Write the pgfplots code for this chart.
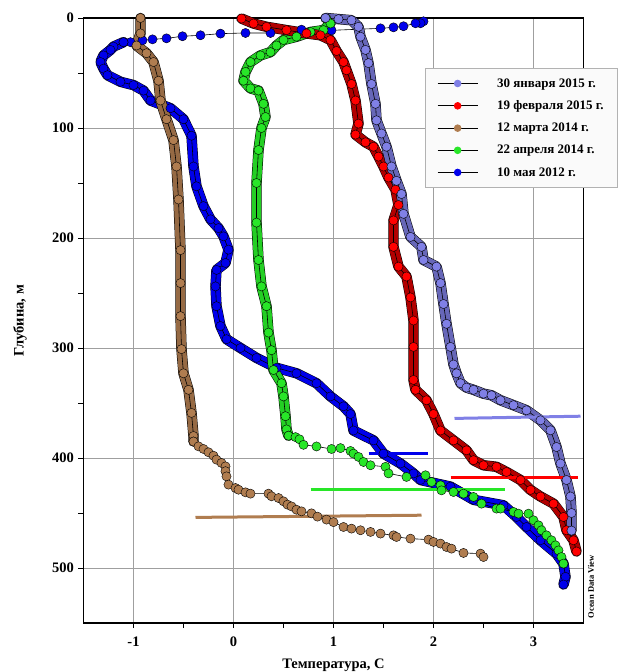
\documentclass[border=0pt]{standalone}
\usepackage{fontspec}
\setmainfont{Liberation Serif}
\usepackage{pgfplots}
\usepackage{pgfplotstable}
\pgfplotsset{compat=1.18}
\definecolor{cLav}{RGB}{128,128,230}
\definecolor{cRed}{RGB}{255,0,0}
\definecolor{cBrn}{RGB}{176,125,80}
\definecolor{cGrn}{RGB}{40,230,40}
\definecolor{cBlu}{RGB}{0,0,235}

% 30 January 2015
\pgfplotstableread{
T d
0.92 0
1.05 1
1.18 2
1.25 8
1.27 17
1.32 29
1.35 41
1.38 60
1.42 78
1.43 93
1.48 105
1.53 117
1.58 135
1.63 148
1.68 160
1.70 178
1.77 199
1.88 208
1.90 220
2.03 226
2.07 241
2.10 260
2.13 278
2.17 299
2.20 315
2.23 323
2.27 332
2.33 336
2.40 338
2.50 341.5
2.58 343
2.67 347.5
2.80 352
2.93 356.6
3.07 365.7
3.17 374.8
3.23 390
3.27 405
3.33 420
3.37 435
3.38 450
3.38 466
}\tLav

% 19 February 2015
\pgfplotstableread{
T d
0.08 0.5
0.20 5
0.33 8
0.53 11
0.73 14
0.87 15.7
0.97 20
1.03 30
1.10 40
1.13 47.5
1.18 60
1.22 75
1.25 96
1.22 106
1.32 113
1.40 117
1.45 126
1.50 135
1.55 145
1.62 156
1.65 170
1.60 184
1.60 208
1.65 226
1.73 235
1.77 254
1.80 275
1.80 299
1.80 329
1.82 338
1.93 347.5
2.00 360
2.07 375
2.20 384
2.33 393
2.40 402
2.50 406.6
2.63 408
2.73 412.7
2.87 420
2.97 429
3.07 435
3.20 441.5
3.30 453.6
3.33 465.7
3.40 474.8
3.43 485
}\tRed

% 12 March 2014 (dense part)
\pgfplotstableread{
T d
-0.93 0
-0.93 14
-0.97 25
-0.87 32
-0.80 40
-0.75 57
-0.73 75
-0.67 92
-0.60 111
-0.57 135
-0.55 165
-0.53 211
-0.53 241
-0.53 271
-0.52 301
-0.50 323
-0.45 338
-0.42 359
-0.40 380
-0.40 385
}\tBrnA
% 12 March 2014 (sparse part)
\pgfplotstableread{
T d
-0.40 385
-0.35 389.4
-0.30 391.8
-0.25 394.8
-0.20 397.9
-0.17 401.5
-0.12 404.5
-0.08 407.6
-0.08 412
-0.07 416.7
-0.05 424.2
0.02 427.3
0.05 428.8
0.12 431.2
0.17 432.4
0.35 432.4
0.38 434.8
0.45 436.4
0.50 439.4
0.54 442.4
0.58 444
0.63 447
0.68 448.5
0.78 450.3
0.84 453.3
0.93 456
1.00 458.3
1.10 462.7
1.18 464.2
1.27 465.7
1.37 467.2
1.47 468.7
1.60 470.3
1.63 471.8
1.77 473.3
1.95 474.2
2.00 476.3
2.07 477.8
2.13 480.9
2.18 482.4
2.30 486.3
2.47 486.9
2.50 490
}\tBrnB

% 22 April 2014 (dense part)
\pgfplotstableread{
T d
0.93 0.5
0.97 5
0.90 11
0.77 12.7
0.63 17
0.50 20
0.43 25
0.37 31
0.27 34
0.17 40
0.12 49
0.10 57
0.17 64
0.25 66
0.30 78
0.32 90
0.28 100
0.25 120
0.23 150
0.23 186
0.25 220
0.28 244
0.33 262
0.35 286
0.38 302
0.40 320
0.48 332
0.50 344
0.52 362
0.53 374
0.55 379.7
}\tGrnA
% 22 April 2014 (sparse part)
\pgfplotstableread{
T d
0.55 379.7
0.62 381
0.66 383
0.70 388
0.83 389.5
0.98 391.8
1.07 391
1.17 393.6
1.20 396
1.25 399
1.30 403.6
1.37 406.6
1.52 408
1.55 414
1.73 417.2
1.92 415.7
1.98 421.8
2.07 424.8
2.08 429.4
2.20 430.9
2.30 432.4
2.40 435.4
2.48 441.5
2.63 446
2.67 446
2.80 449
2.85 450.6
2.95 450.6
3.00 456.6
3.05 461.2
3.08 465.7
3.13 470.3
3.18 474.8
3.22 479.4
3.25 484
3.28 490
3.30 496
}\tGrnB

% 10 May 2012 (sparse surface part)
\pgfplotstableread{
T d
1.90 3
1.87 4.8
1.82 4.8
1.70 7.5
1.60 8.5
1.47 9.4
0.98 11.2
0.68 10.6
0.37 13.6
0.12 13.6
-0.13 14.2
-0.33 15.7
-0.51 16.6
-0.67 18.5
-0.81 19.4
-0.91 20.3
-1.03 22
-1.10 22
}\tBluA
% 10 May 2012 (dense part)
\pgfplotstableread{
T d
-1.10 22
-1.20 26
-1.23 29
-1.30 34
-1.33 40
-1.30 46
-1.26 52
-1.13 58
-1.00 61
-0.90 66
-0.83 75
-0.63 82
-0.50 92
-0.42 107
-0.40 135
-0.37 153
-0.30 171
-0.23 183
-0.15 191
-0.10 198.5
-0.05 210.6
-0.08 222.7
-0.17 229
-0.18 244
-0.17 262
-0.13 280
-0.07 292
0.07 300
0.23 309
0.43 318
0.63 323
0.83 332
0.97 344
1.10 353
1.17 360
1.20 375
1.40 384
1.50 396
1.67 405
1.80 414
1.87 420
2.17 426
2.40 438
2.70 443
2.83 453.6
2.93 462.7
3.07 474.8
3.23 487
3.30 496
3.32 508
3.30 515
}\tBluB

\pgfplotsset{
  bandk/.style={no marks, line width=10.4pt, line join=round, line cap=round, black, forget plot},
  bandc/.style={no marks, line width=9.4pt, line join=round, line cap=round, #1, forget plot},
  pts/.style={black, line width=0.6pt, mark=*, mark size=4.6pt,
    mark options={fill=#1, draw=black, line width=0.4pt}, forget plot},
  lvl/.style={no marks, line width=3pt, #1, forget plot},
}

\begin{document}
\begin{tikzpicture}
\useasboundingbox (0,0) rectangle (627pt,672pt);
\begin{axis}[
  at={(83.5pt,49pt)}, anchor=south west,
  scale only axis, width=500pt, height=605pt,
  xmin=-1.5, xmax=3.5, ymin=0, ymax=550, y dir=reverse,
  xtick={-1,0,1,2,3}, xticklabels={-1,0,1,2,3},
  ytick={0,100,200,300,400,500}, yticklabels={0,100,200,300,400,500},
  minor x tick num=1, minor y tick num=1,
  xtick pos=bottom, ytick pos=left,
  tick align=outside, major tick length=5pt, minor tick length=5pt,
  tick style={black, line width=0.6pt},
  ticklabel style={font=\bfseries\fontsize{14.5}{16}\selectfont},
  x tick label style={yshift=-5pt},
  y tick label style={xshift=-1pt},
  grid=major, major grid style={gray!75, line width=0.5pt},
  axis line style={line width=1.5pt},
  clip=false,
  xlabel={Температура, C}, ylabel={Глубина, м},
  every axis x label/.style={at={(axis description cs:0.5,0)}, anchor=center, yshift=-42pt,
    font=\bfseries\fontsize{14.5}{16}\selectfont},
  every axis y label/.style={at={(axis description cs:-0.127,0.5)}, anchor=center, rotate=90,
    font=\bfseries\fontsize{14.5}{16}\selectfont},
  legend cell align=left,
  legend image code/.code={\draw[mark repeat=2,mark phase=2,#1] plot coordinates {(0pt,0pt) (20pt,0pt) (40pt,0pt)};},
  legend style={at={(0.683,0.917)}, anchor=north west, draw=gray!60, fill=black!2,
    font=\bfseries\fontsize{13}{15}\selectfont, inner xsep=12pt, inner ysep=8pt,
    row sep=8pt, /tikz/every odd column/.append style={column sep=17pt}},
]
% legend entries
\addlegendimage{black, line width=0.9pt, mark=*, mark size=3.3pt, mark options={fill=cLav, draw=cLav}}
\addlegendentry{30 января 2015 г.}
\addlegendimage{black, line width=0.9pt, mark=*, mark size=3.3pt, mark options={fill=cRed, draw=cRed}}
\addlegendentry{19 февраля 2015 г.}
\addlegendimage{black, line width=0.9pt, mark=*, mark size=3.3pt, mark options={fill=cBrn, draw=cBrn}}
\addlegendentry{12 марта 2014 г.}
\addlegendimage{black, line width=0.9pt, mark=*, mark size=3.3pt, mark options={fill=cGrn, draw=cGrn}}
\addlegendentry{22 апреля 2014 г.}
\addlegendimage{black, line width=0.9pt, mark=*, mark size=3.3pt, mark options={fill=cBlu, draw=cBlu}}
\addlegendentry{10 мая 2012 г.}

% 10 May 2012
\addplot[bandk] table[x=T,y=d] {\tBluB};
\addplot[bandc=cBlu] table[x=T,y=d] {\tBluB};
\addplot[pts=cBlu] table[x=T,y=d] {\tBluA};
\addplot[pts=cBlu] table[x=T,y=d] {\tBluB};
% 12 March 2014
\addplot[bandk] table[x=T,y=d] {\tBrnA};
\addplot[bandc=cBrn!85!black] table[x=T,y=d] {\tBrnA};
\addplot[pts=cBrn] table[x=T,y=d] {\tBrnA};
\addplot[pts=cBrn] table[x=T,y=d] {\tBrnB};
% 22 April 2014
\addplot[bandk] table[x=T,y=d] {\tGrnA};
\addplot[bandc=cGrn!90!black] table[x=T,y=d] {\tGrnA};
\addplot[pts=cGrn] table[x=T,y=d] {\tGrnA};
\addplot[pts=cGrn] table[x=T,y=d] {\tGrnB};
% 19 February 2015
\addplot[bandk] table[x=T,y=d] {\tRed};
\addplot[bandc=cRed!70!black] table[x=T,y=d] {\tRed};
\addplot[pts=cRed] table[x=T,y=d] {\tRed};
% 30 January 2015
\addplot[bandk] table[x=T,y=d] {\tLav};
\addplot[bandc=cLav!80!black] table[x=T,y=d] {\tLav};
\addplot[pts=cLav] table[x=T,y=d] {\tLav};

% level lines
\addplot[lvl=cLav] coordinates {(2.21,364) (3.47,362)};
\addplot[lvl=cRed] coordinates {(2.17,417.5) (3.44,417.5)};
\addplot[lvl=cBlu] coordinates {(1.35,395.7) (1.94,395.7)};
\addplot[lvl=cGrn] coordinates {(0.77,428.5) (2.71,428.5)};
\addplot[lvl=cBrn] coordinates {(-0.38,454) (1.88,452)};

\node[rotate=90, font=\bfseries\fontsize{8.5}{10}\selectfont] at (axis description cs:1.015,0.06) {Ocean Data View};
\end{axis}
\end{tikzpicture}
\end{document}
